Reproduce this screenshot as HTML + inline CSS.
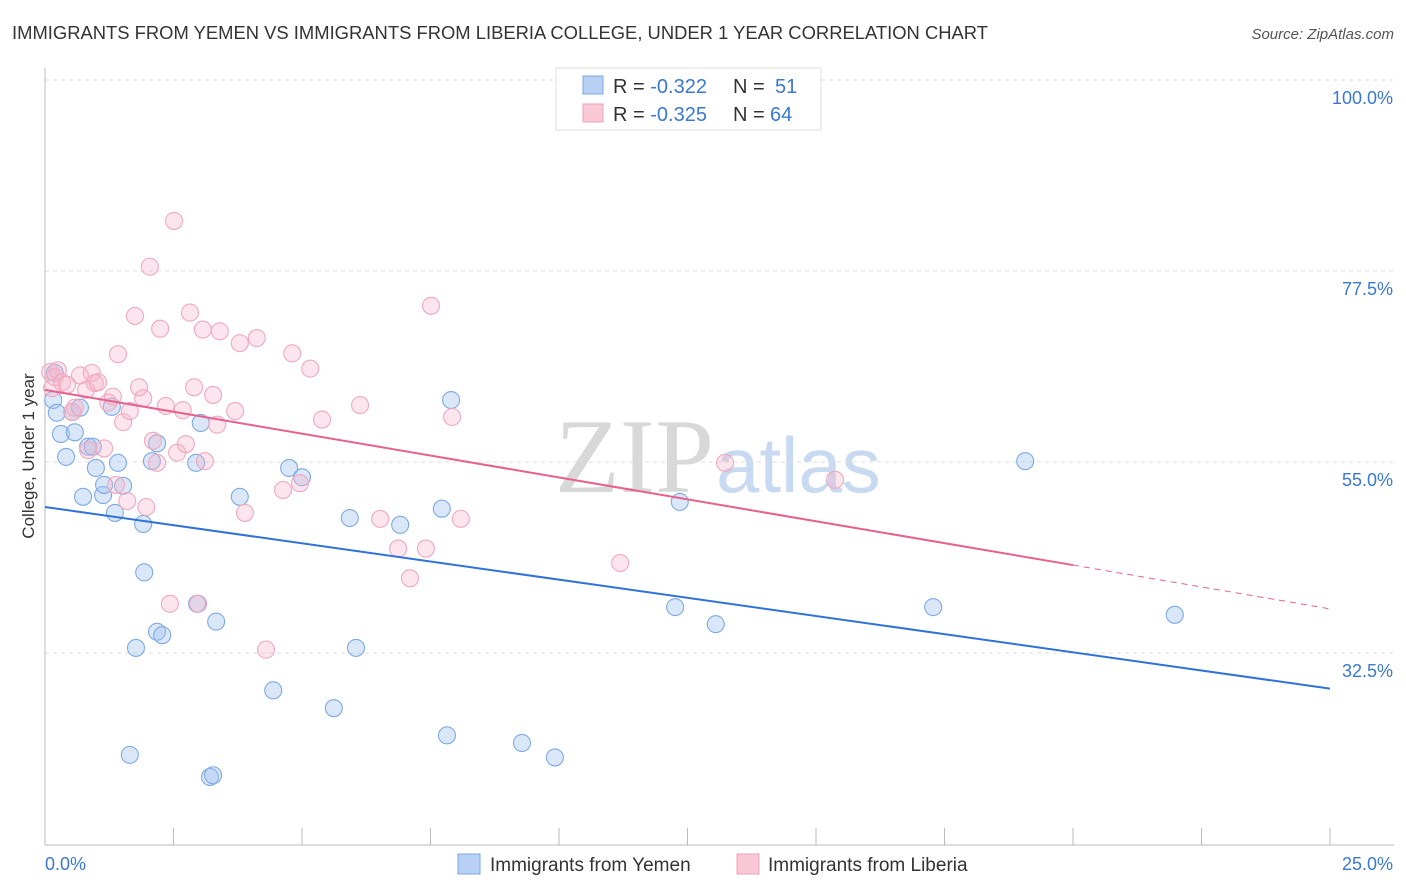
<!DOCTYPE html>
<html><head><meta charset="utf-8"><style>
body{margin:0;background:#fff;font-family:"Liberation Sans",sans-serif;}
svg{display:block}
</style></head><body>
<svg id="c" width="1406" height="892">
<text x="12" y="39" font-size="18" fill="#333" textLength="976" lengthAdjust="spacingAndGlyphs">IMMIGRANTS FROM YEMEN VS IMMIGRANTS FROM LIBERIA COLLEGE, UNDER 1 YEAR CORRELATION CHART</text>
<text x="1394" y="39" font-size="15" fill="#555" font-style="italic" text-anchor="end">Source: ZipAtlas.com</text>
<text x="714" y="492" font-size="106" fill="#d8d8d8" text-anchor="end" font-family="Liberation Serif">ZIP</text>
<text x="716" y="492" font-size="78" fill="#c8daf2">atlas</text>
<text transform="translate(34,456) rotate(-90)" font-size="17" fill="#333" text-anchor="middle">College, Under 1 year</text>
<g id="grid"></g><g id="pts"></g><g id="lines"></g>
<g>
<rect x="556" y="68" width="265" height="62" fill="#fff" stroke="#ddd"/>
<rect x="583" y="76" width="20" height="18" fill="#b8d0f4" stroke="#7aa8e0"/>
<rect x="583" y="104" width="20" height="18" fill="#f8c8d6" stroke="#f0a0b8"/>
<text x="613" y="93" font-size="20" fill="#333">R = <tspan fill="#3a78d4">-0.322</tspan></text>
<text x="733" y="93" font-size="20" fill="#333">N = <tspan x="775" fill="#3a78d4">51</tspan></text>
<text x="613" y="121" font-size="20" fill="#333">R = <tspan fill="#3a78d4">-0.325</tspan></text>
<text x="733" y="121" font-size="20" fill="#333">N = <tspan x="770" fill="#3a78d4">64</tspan></text>
</g>
<g>
<rect x="458" y="854" width="22" height="20" fill="#b8d0f4" stroke="#7aa8e0"/>
<text x="490" y="871" font-size="19" fill="#333">Immigrants from Yemen</text>
<rect x="737" y="854" width="22" height="20" fill="#f8c8d6" stroke="#f0a0b8"/>
<text x="768" y="871" font-size="19" fill="#333">Immigrants from Liberia</text>
</g>
</svg>
<script>
const yTicks=[100,77.5,55,32.5];
const yTickLabels=["100.0%","77.5%","55.0%","32.5%"];
const xTicks=[0,2.5,5,7.5,10,12.5,15,17.5,20,22.5,25];
const blueX=[0.19,0.16,0.23,0.31,0.41,0.53,0.58,0.68,0.74,0.84,0.93,0.99,1.13,1.15,1.30,1.36,1.42,1.52,1.65,1.91,1.93,2.08,2.18,2.18,2.28,1.77,2.94,2.96,3.03,3.21,3.27,3.33,3.79,4.44,4.75,5.00,5.62,5.93,6.05,6.91,7.72,7.82,7.90,9.28,9.92,12.26,12.35,13.05,17.28,19.07,21.98];
const blueY=[65.5,62.3,60.8,58.3,55.6,60.9,58.5,61.4,50.9,56.8,56.8,54.3,51.1,52.3,61.5,49.0,54.9,52.2,20.5,47.7,42.0,55.1,57.2,35.0,34.6,33.1,54.9,38.3,59.6,17.9,18.1,36.2,50.9,28.1,54.3,53.2,26.0,48.4,33.1,47.6,49.5,22.8,62.3,21.9,20.2,37.9,50.3,35.9,37.9,55.1,37.0];
const pinkX=[0.10,0.14,0.19,0.25,0.33,0.43,0.53,0.58,0.68,0.80,0.84,0.91,0.97,1.03,1.15,1.23,1.32,1.38,1.42,1.52,1.60,1.65,1.75,1.83,1.91,1.97,2.04,2.10,2.18,2.24,2.35,2.43,2.51,2.57,2.68,2.74,2.82,2.90,2.98,3.07,3.11,3.27,3.35,3.40,3.70,3.79,3.89,4.12,4.30,4.63,4.81,4.96,5.16,5.39,6.13,6.52,6.87,7.10,7.41,7.51,7.92,8.09,11.19,13.23,15.37];
const pinkY=[65.6,63.7,65.0,65.8,64.4,64.1,60.9,61.4,65.2,63.5,56.4,65.5,64.3,64.4,56.6,62.0,62.7,52.3,67.7,59.7,50.4,61.0,72.2,63.8,62.5,49.7,78.0,57.5,54.9,70.7,61.6,38.3,83.4,56.1,61.1,57.1,72.6,63.8,38.3,70.6,55.1,62.9,59.4,70.4,61.0,69.0,49.0,69.6,32.9,51.7,67.8,52.5,66.0,60.0,61.7,48.3,44.8,41.3,44.8,73.4,60.3,48.3,43.1,54.9,52.9];
const blueTrend=[49.7,28.3];
const pinkTrend=[63.5,37.7];
const pinkSolidEnd=20;
const NS="http://www.w3.org/2000/svg";
const xs=v=>45+v/25*1285;
const ys=v=>80+(100-v)/22.5*191;
function mk(t,a,p){const e=document.createElementNS(NS,t);for(const k in a)e.setAttribute(k,a[k]);p.appendChild(e);return e;}
const g=document.getElementById('grid');
yTicks.forEach((t,i)=>{
 const l=mk('line',{x1:45,x2:1394,y1:ys(t),y2:ys(t),stroke:'#ddd','stroke-dasharray':'4,4'},g);
 
 
 const tx=mk('text',{x:1393,y:ys(t)+24,'font-size':18,fill:'#3a78d4','text-anchor':'end'},g);
 tx.textContent=yTickLabels[i];
 
 
});
mk('line',{x1:45,x2:45,y1:68,y2:845,stroke:'#bbb'},g);
mk('line',{x1:45,x2:1394,y1:845,y2:845,stroke:'#bbb'},g);
xTicks.forEach(t=>{const l=mk('line',{x1:xs(t),x2:xs(t),y1:828,y2:845,stroke:'#bbb'},g);
 
 });
let t0=mk('text',{x:45,y:870,'font-size':18,fill:'#3a78d4'},g);t0.textContent='0.0%';


let t1=mk('text',{x:1393,y:870,'font-size':18,fill:'#3a78d4','text-anchor':'end'},g);t1.textContent='25.0%';


const P=document.getElementById('pts');
blueX.forEach((x,i)=>{const c=mk('circle',{cx:xs(x),cy:ys(blueY[i]),r:8.5,fill:'rgba(160,196,240,0.4)',stroke:'#7eaae4','stroke-width':1.1},P);
 
 });
pinkX.forEach((x,i)=>{const c=mk('circle',{cx:xs(x),cy:ys(pinkY[i]),r:8.5,fill:'rgba(245,180,200,0.35)',stroke:'#f2a8bf','stroke-width':1.1},P);
 
 });
const L=document.getElementById('lines');
let bl=mk('line',{x1:xs(0),y1:ys(blueTrend[0]),x2:xs(25),y2:ys(blueTrend[1]),stroke:'#2f72d8','stroke-width':2},L);


const pm=v=>pinkTrend[0]+(pinkTrend[1]-pinkTrend[0])*v/25;
let pl=mk('line',{x1:xs(0),y1:ys(pm(0)),x2:xs(pinkSolidEnd),y2:ys(pm(pinkSolidEnd)),stroke:'#e8608c','stroke-width':2},L);


let pd=mk('line',{x1:xs(pinkSolidEnd),y1:ys(pm(pinkSolidEnd)),x2:xs(25),y2:ys(pm(25)),stroke:'#e8608c','stroke-width':1,'stroke-dasharray':'6,5'},L);


</script>
</body></html>
